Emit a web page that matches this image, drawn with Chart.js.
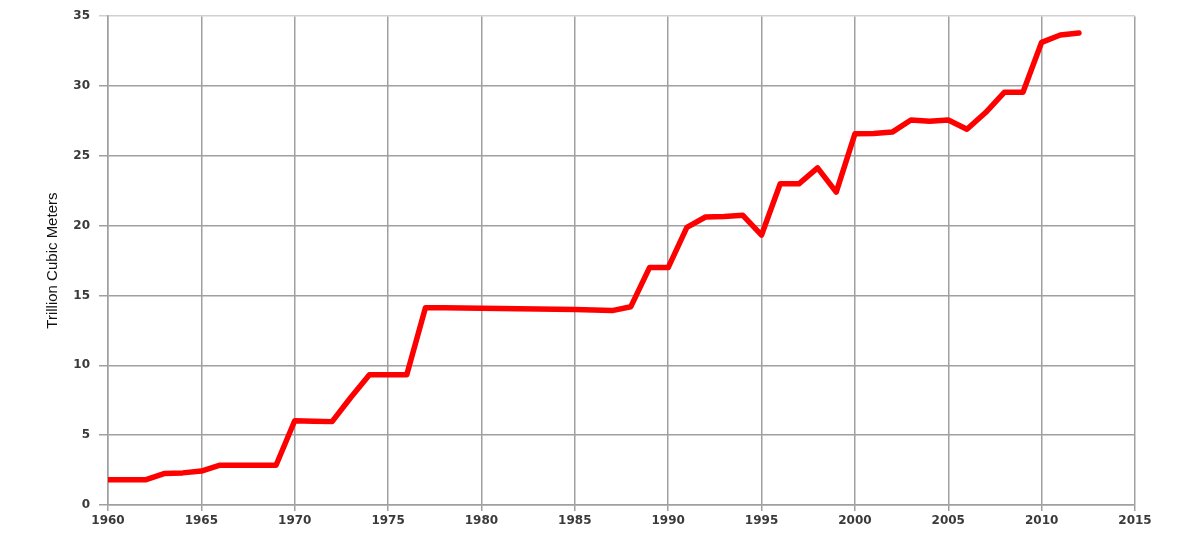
<!DOCTYPE html>
<html>
<head>
<meta charset="utf-8">
<script src="https://cdn.jsdelivr.net/npm/chart.js@4/dist/chart.umd.min.js"></script>
<style>
  html, body { margin: 0; padding: 0; background: #fff; }
  #c { display: block; }
</style>
</head>
<body>
<canvas id="c" width="1185" height="546"></canvas>
<script>
const years = [1960,1961,1962,1963,1964,1965,1966,1967,1968,1969,1970,1971,1972,1973,1974,1975,1976,1977,1978,1979,1980,1981,1982,1983,1984,1985,1986,1987,1988,1989,1990,1991,1992,1993,1994,1995,1996,1997,1998,1999,2000,2001,2002,2003,2004,2005,2006,2007,2008,2009,2010,2011,2012];
const reserves = [1.8,1.8,1.8,2.25,2.3,2.43,2.85,2.85,2.85,2.85,6.03,6.0,5.97,7.7,9.33,9.33,9.33,14.12,14.12,14.1,14.08,14.07,14.05,14.03,14.01,13.99,13.96,13.92,14.2,17.0,17.0,19.88,20.62,20.65,20.74,19.33,23.0,23.0,24.14,22.4,26.58,26.6,26.7,27.57,27.47,27.57,26.9,28.1,29.55,29.55,33.13,33.65,33.8];
const xTicks = [1960,1965,1970,1975,1980,1985,1990,1995,2000,2005,2010,2015];
const yTicks = [0,5,10,15,20,25,30,35];
const yTitle = 'Trillion Cubic Meters';

const points = years.map((y, i) => ({ x: y, y: reserves[i] }));
const gridColor = '#a0a0a0';
const tickFont = { family: '"DejaVu Sans", Verdana, sans-serif', size: 12, weight: 'bold' };

new Chart(document.getElementById('c'), {
  type: 'line',
  data: {
    datasets: [{
      data: points,
      borderColor: '#ff0000',
      borderWidth: 5.5,
      pointRadius: 0,
      tension: 0,
      fill: false,
      borderJoinStyle: 'round',
      borderCapStyle: 'round'
    }]
  },
  options: {
    responsive: false,
    animation: false,
    devicePixelRatio: 1,
    layout: { padding: { left: 0, right: 50, top: 14, bottom: 0 } },
    plugins: { legend: { display: false }, tooltip: { enabled: false } },
    scales: {
      x: {
        type: 'linear',
        min: xTicks[0],
        max: xTicks[xTicks.length - 1],
        afterBuildTicks: s => { s.ticks = xTicks.map(v => ({ value: v })); },
        afterFit: s => { s.height = 41; },
        ticks: {
          font: tickFont, color: '#3a3a3a', padding: 3, maxRotation: 0,
          callback: v => String(v)
        },
        grid: { color: gridColor, lineWidth: 1.5, tickLength: 6, drawTicks: true },
        border: { color: gridColor, width: 1.5 }
      },
      y: {
        min: 0,
        max: 35,
        afterBuildTicks: s => { s.ticks = yTicks.map(v => ({ value: v })); },
        afterFit: s => { s.width = 108; },
        ticks: { font: tickFont, color: '#3a3a3a', padding: 9 },
        grid: {
          color: ctx => (ctx.tick && ctx.tick.value === 35) ? '#d0d0d0' : gridColor,
          lineWidth: 1.5, tickLength: 9
        },
        border: { color: gridColor, width: 1.5 },
        title: {
          display: true,
          text: yTitle,
          font: { family: '"Liberation Sans Narrow", "Arial Narrow", "Liberation Sans", sans-serif', size: 15 },
          color: '#111',
          padding: { top: 44, bottom: 0 }
        }
      }
    }
  }
});
</script>
</body>
</html>
